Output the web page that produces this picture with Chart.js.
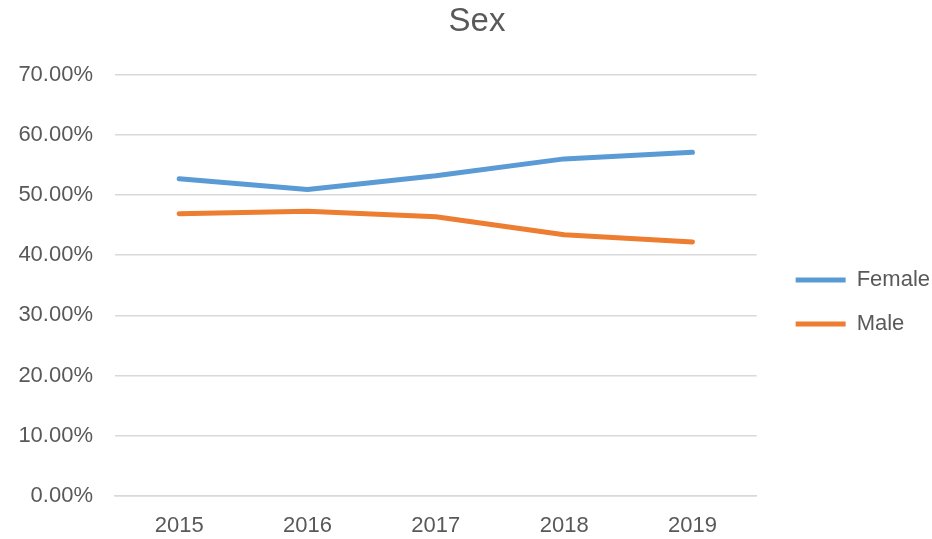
<!DOCTYPE html>
<html>
<head>
<meta charset="utf-8">
<script src="https://cdn.jsdelivr.net/npm/chart.js@4"></script>
<style>
  html, body { margin: 0; padding: 0; background: #fff; }
  #wrap { width: 932px; height: 539px; }
</style>
</head>
<body>
<div id="wrap"><canvas id="sexChart"></canvas></div>
<script>
const years = ["2015", "2016", "2017", "2018", "2019"];
const female = [52.7, 50.9, 53.2, 56.0, 57.1];
const male = [46.9, 47.3, 46.4, 43.4, 42.2];
const yTicks = [0, 10, 20, 30, 40, 50, 60, 70];

const textColor = "#595959";
const fontFamily = "'Liberation Sans', Arial, sans-serif";

// nudge title and legend sideways after layout (Excel centres the title on the plot, legend sits further right)
const nudgeBoxes = {
    id: "nudgeBoxes",
    afterLayout(chart) {
        if (chart.titleBlock) {
            chart.titleBlock.left += 15.5;
            chart.titleBlock.right += 15.5;
        }
        if (chart.legend) {
            chart.legend.left += 17;
            chart.legend.right += 17;
        }
    }
};

new Chart(document.getElementById("sexChart"), {
    type: "line",
    data: {
        labels: years,
        datasets: [
            { label: "Female", data: female, borderColor: "#5B9BD5", backgroundColor: "#5B9BD5" },
            { label: "Male", data: male, borderColor: "#ED7D31", backgroundColor: "#ED7D31" }
        ]
    },
    options: {
        responsive: true,
        maintainAspectRatio: false,
        animation: false,
        layout: { padding: { left: 0, right: 9, top: 2, bottom: 0 } },
        elements: {
            line: { borderWidth: 5, tension: 0, borderCapStyle: "round", borderJoinStyle: "round" },
            point: { radius: 0, hoverRadius: 0 }
        },
        plugins: {
            title: {
                display: true,
                text: "Sex",
                color: textColor,
                font: { family: fontFamily, size: 33, weight: "normal" },
                padding: { top: 0, bottom: 33 }
            },
            legend: {
                position: "right",
                // blank title only pushes the entries down
                title: { display: true, text: " ", font: { size: 12 }, padding: { top: 0, bottom: 48.6 } },
                labels: {
                    color: textColor,
                    font: { family: fontFamily, size: 22 },
                    boxWidth: 50,
                    boxHeight: 5,
                    padding: 22,
                    useBorderRadius: true,
                    borderRadius: 2.5,
                    generateLabels: function (chart) {
                        return chart.data.datasets.map((ds, i) => ({
                            text: ds.label,
                            fillStyle: ds.borderColor,
                            strokeStyle: ds.borderColor,
                            lineWidth: 0,
                            fontColor: textColor,
                            datasetIndex: i
                        }));
                    }
                }
            },
            tooltip: { enabled: false }
        },
        scales: {
            x: {
                offset: true,
                afterFit: function (axis) { axis.height = 43; },
                grid: { display: false, drawTicks: false },
                border: { display: true, color: "#d9d9d9", width: 1.5 },
                ticks: { color: textColor, font: { family: fontFamily, size: 22 }, padding: 17 }
            },
            y: {
                min: 0,
                max: 70,
                afterBuildTicks: function (axis) {
                    axis.ticks = yTicks.map(v => ({ value: v }));
                },
                afterFit: function (axis) { axis.width = 115; },
                grid: { color: "#d9d9d9", lineWidth: 1.5, drawTicks: false },
                border: { display: false },
                ticks: {
                    color: textColor,
                    font: { family: fontFamily, size: 22 },
                    padding: 22,
                    callback: v => v.toFixed(2) + "%"
                }
            }
        }
    },
    plugins: [nudgeBoxes]
});
</script>
</body>
</html>
